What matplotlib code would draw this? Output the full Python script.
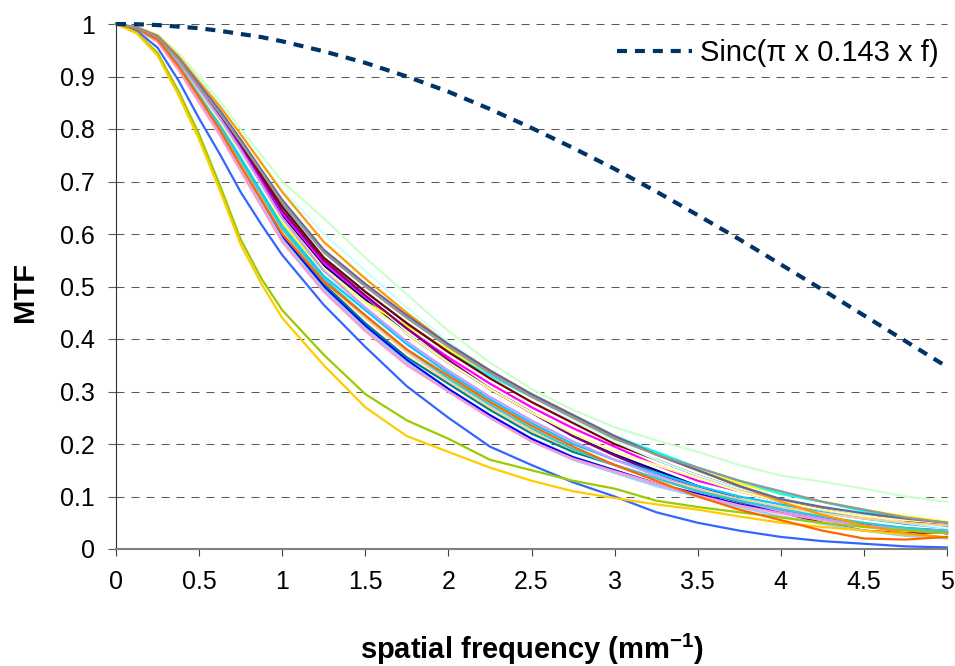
import matplotlib
matplotlib.use("Agg")
import matplotlib.pyplot as plt

plt.rcParams.update({
    "font.family": ["Liberation Sans", "DejaVu Sans"],
    "font.size": 18,
    "mathtext.fontset": "custom",
    "mathtext.rm": "Liberation Sans:bold",
    "mathtext.bf": "Liberation Sans:bold",
    "mathtext.default": "bf",
})

# spatial frequency samples (mm^-1), finer near the shoulder
freq = [0, 0.125, 0.25, 0.375, 0.5, 0.625, 0.75, 0.875, 1.0, 1.25, 1.5, 1.75, 2.0, 2.25, 2.5,
        2.75, 3.0, 3.25, 3.5, 3.75, 4.0, 4.25, 4.5, 4.75, 5.0]

# Sinc(pi x 0.143 x f)
sinc = [1.0, 0.9995, 0.998, 0.995, 0.992, 0.987, 0.981, 0.975, 0.967, 0.948, 0.926, 0.900, 0.871,
        0.838, 0.802, 0.764, 0.724, 0.681, 0.636, 0.590, 0.542, 0.494, 0.445, 0.396, 0.347]

# measured MTF curves (one per Excel series colour)
mtf_navy = [1, .993, .975, .93, .875, .82, .76, .698, .635, .54, .475, .41, .355, .305, .26, .215, .18, .15, .12, .095, .075, .06, .048, .038, .03]
mtf_magenta = [1, .993, .975, .932, .878, .823, .765, .703, .64, .545, .48, .42, .365, .315, .27, .23, .195, .16, .13, .11, .09, .075, .062, .05, .042]
mtf_yellow = [1, .991, .97, .92, .86, .803, .74, .68, .62, .53, .47, .425, .38, .335, .29, .25, .21, .18, .15, .125, .105, .09, .075, .062, .052]
mtf_cyan = [1, .993, .975, .933, .88, .828, .77, .712, .655, .555, .49, .43, .375, .33, .29, .255, .215, .185, .155, .13, .105, .09, .072, .055, .04]
mtf_purple = [1, .993, .976, .933, .88, .828, .77, .708, .645, .55, .483, .42, .36, .305, .26, .215, .178, .145, .115, .09, .07, .05, .035, .03, .032]
mtf_darkred = [1, .993, .977, .935, .882, .831, .775, .713, .652, .555, .49, .43, .375, .325, .28, .24, .2, .17, .14, .115, .095, .078, .065, .052, .045]
mtf_teal = [1, .991, .97, .921, .862, .801, .735, .668, .6, .505, .43, .365, .315, .265, .22, .185, .16, .135, .11, .09, .072, .058, .048, .04, .035]
mtf_blue = [1, .99, .968, .916, .855, .795, .73, .662, .595, .5, .425, .36, .305, .255, .21, .175, .15, .125, .105, .085, .07, .058, .048, .038, .03]
mtf_skyblue = [1, .992, .972, .923, .865, .808, .745, .68, .615, .52, .455, .39, .335, .285, .24, .2, .17, .145, .12, .1, .085, .07, .058, .048, .04]
mtf_lightturq = [1, .994, .978, .942, .895, .845, .79, .738, .685, .6, .53, .46, .395, .34, .29, .245, .205, .17, .14, .115, .095, .08, .065, .05, .04]
mtf_lightgreen = [1, .994, .98, .945, .9, .853, .8, .75, .70, .63, .555, .485, .415, .355, .305, .265, .232, .207, .185, .16, .14, .128, .115, .10, .09]
mtf_lightyellow = [1, .992, .972, .926, .87, .815, .755, .693, .63, .535, .47, .41, .355, .305, .26, .22, .185, .16, .135, .11, .09, .075, .062, .055, .05]
mtf_paleblue = [1, .99, .968, .916, .855, .793, .725, .658, .59, .495, .42, .355, .3, .25, .205, .17, .145, .12, .1, .08, .062, .048, .035, .025, .02]
mtf_rose = [1, .99, .966, .913, .85, .788, .72, .652, .585, .49, .415, .35, .3, .25, .205, .172, .148, .125, .102, .083, .068, .055, .045, .036, .03]
mtf_lavender = [1, .993, .975, .93, .875, .82, .76, .695, .63, .53, .46, .395, .34, .29, .245, .205, .17, .14, .115, .092, .072, .058, .045, .038, .035]
mtf_tan = [1, .991, .97, .92, .86, .8, .735, .67, .605, .51, .44, .375, .32, .27, .225, .19, .16, .135, .115, .095, .08, .068, .058, .05, .045]
mtf_lightblue = [1, .987, .955, .893, .82, .752, .68, .618, .56, .465, .385, .31, .25, .195, .16, .127, .10, .07, .05, .035, .023, .015, .01, .005, .003]
mtf_aqua = [1, .992, .972, .923, .865, .805, .74, .675, .61, .515, .445, .38, .325, .275, .23, .19, .16, .135, .11, .092, .076, .062, .05, .04, .033]
mtf_lime = [1, .984, .945, .873, .79, .693, .59, .515, .455, .37, .295, .245, .21, .17, .15, .13, .115, .092, .08, .07, .06, .05, .042, .035, .03]
mtf_gold = [1, .982, .94, .865, .78, .683, .58, .505, .44, .35, .27, .215, .185, .155, .13, .11, .097, .085, .075, .062, .05, .042, .035, .028, .022]
mtf_lightorange = [1, .994, .978, .939, .89, .843, .79, .735, .68, .585, .515, .45, .39, .34, .295, .255, .215, .18, .15, .12, .09, .065, .045, .03, .022]
mtf_orange = [1, .991, .97, .92, .86, .798, .73, .665, .6, .51, .445, .38, .33, .28, .235, .195, .16, .13, .1, .075, .055, .035, .02, .018, .023]
mtf_bluegray = [1, .993, .976, .935, .885, .835, .78, .722, .665, .57, .505, .445, .39, .34, .295, .255, .215, .18, .15, .12, .095, .08, .068, .058, .05]
mtf_gray = [1, .993, .975, .933, .88, .83, .775, .718, .66, .565, .5, .44, .385, .335, .29, .25, .21, .18, .155, .13, .11, .09, .075, .06, .05]

series = [
    (mtf_navy, "#000080"), (mtf_magenta, "#FF00FF"), (mtf_yellow, "#FFFF00"),
    (mtf_cyan, "#00FFFF"), (mtf_purple, "#800080"), (mtf_darkred, "#800000"),
    (mtf_teal, "#008080"), (mtf_blue, "#0000FF"), (mtf_skyblue, "#00CCFF"),
    (mtf_lightturq, "#CCFFFF"), (mtf_lightgreen, "#CCFFCC"), (mtf_lightyellow, "#FFFF99"),
    (mtf_paleblue, "#99CCFF"), (mtf_rose, "#FF99CC"), (mtf_lavender, "#CC99FF"),
    (mtf_tan, "#FFCC99"), (mtf_lightblue, "#3366FF"), (mtf_aqua, "#33CCCC"),
    (mtf_lime, "#99CC00"), (mtf_gold, "#FFCC00"), (mtf_lightorange, "#FF9900"),
    (mtf_orange, "#FF6600"), (mtf_bluegray, "#666699"), (mtf_gray, "#969696"),
]

fig = plt.figure(figsize=(9.55, 6.66), dpi=100)
ax = fig.add_axes([116 / 955, 1 - 549 / 666, (947 - 116) / 955, (549 - 24) / 666])

# horizontal dashed grid
yticks = [i / 10 for i in range(11)]
for yv in yticks[1:]:
    ax.axhline(yv, color="#5a5a5a", lw=0.75, ls=(0, (7.7, 6.7)), zorder=0.5, clip_on=False)

for vals, col in series:
    ax.plot(freq, vals, color=col, lw=1.6, clip_on=False)

ax.plot(freq, sinc, color="#003366", lw=3.0, ls=(0, (2.4, 1.9)),
        label="Sinc(π x 0.143 x f)", clip_on=False)

ax.set_xlim(0, 5)
ax.set_ylim(0, 1)
ax.set_xticks([0, 0.5, 1, 1.5, 2, 2.5, 3, 3.5, 4, 4.5, 5])
ax.set_xticklabels(["0", "0.5", "1", "1.5", "2", "2.5", "3", "3.5", "4", "4.5", "5"])
ax.set_yticks(yticks)
ax.set_yticklabels(["0"] + [f"{v:.1f}" for v in yticks[1:-1]] + ["1"])

for side in ("top", "right"):
    ax.spines[side].set_visible(False)
ax.spines["left"].set_color("#303030")
ax.spines["left"].set_linewidth(0.8)
ax.spines["bottom"].set_color("#808080")
ax.spines["bottom"].set_linewidth(1.5)
ax.tick_params(axis="x", direction="out", length=5, width=0.8, color="#404040",
               labelsize=18, pad=10)
ax.tick_params(axis="y", direction="out", length=5.8, width=0.8, color="#5a5a5a",
               labelsize=18, pad=9.4)

ax.set_ylabel("MTF", fontsize=21, fontweight="bold")
ax.yaxis.set_label_coords(-0.093, 0.49)
ax.set_xlabel(r"spatial frequency (mm$^{-1}$)", fontsize=21, fontweight="bold")
ax.xaxis.set_label_coords(0.5, -0.158)

ax.legend(loc="center right", bbox_to_anchor=(1.0036, 0.9448), borderaxespad=0,
          frameon=False, fontsize=21, handlelength=2.57, handletextpad=0.27)

fig.savefig("out.png", dpi=100)
